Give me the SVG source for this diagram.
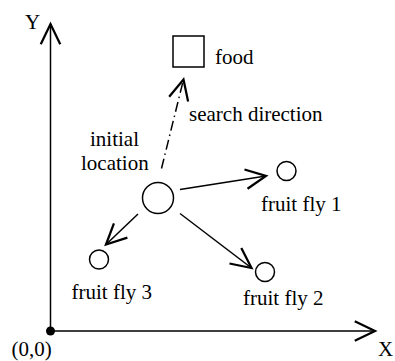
<svg xmlns="http://www.w3.org/2000/svg" width="395" height="361" viewBox="0 0 395 361">
<style>
text{font-family:"Liberation Serif","Times New Roman",serif;font-size:21px;fill:#000}
.ln{stroke:#000;stroke-width:1.5;fill:none}
.nd{stroke:#000;stroke-width:1.5;fill:#fff}
</style>
<defs>
<marker id="ah" markerUnits="userSpaceOnUse" markerWidth="30" markerHeight="30" refX="0" refY="0" viewBox="-16 -10 20 20" orient="auto" overflow="visible">
<path d="M-13.5,-6.5 L0,0 L-13.5,6.5" fill="none" stroke="#000" stroke-width="1.5" stroke-dasharray="none"/>
</marker>
</defs>
<g id="axes">
<line class="ln" x1="50.5" y1="331" x2="50.5" y2="24" marker-end="url(#ah)"/>
<line class="ln" x1="50.5" y1="331" x2="375" y2="331" marker-end="url(#ah)"/>
<circle cx="50.5" cy="331" r="4.5" fill="#000"/>
<text x="25" y="29">Y</text>
<text x="378" y="356">X</text>
<text x="11.5" y="356">(0,0)</text>
</g>
<g id="connectors">
<line class="ln" x1="161.5" y1="168.5" x2="183.5" y2="79.5" stroke-dasharray="10 4 1.5 4" marker-end="url(#ah)"/>
<line class="ln" x1="180" y1="189.5" x2="266" y2="176" marker-end="url(#ah)"/>
<line class="ln" x1="180" y1="213.5" x2="251.5" y2="268" marker-end="url(#ah)"/>
<line class="ln" x1="138" y1="214" x2="106" y2="244.5" marker-end="url(#ah)"/>
</g>
<g id="food">
<rect class="nd" x="173" y="36" width="31" height="31"/>
<text x="215" y="64">food</text>
</g>
<g id="search-label">
<text x="189" y="121">search direction</text>
</g>
<g id="initial">
<circle class="nd" cx="158" cy="198" r="15.5"/>
<text x="90" y="146">initial</text>
<text x="81" y="170">location</text>
</g>
<g id="fly1">
<circle class="nd" cx="286.5" cy="171" r="9.5"/>
<text x="261" y="211">fruit fly 1</text>
</g>
<g id="fly2">
<circle class="nd" cx="265" cy="272" r="9.5"/>
<text x="243" y="305">fruit fly 2</text>
</g>
<g id="fly3">
<circle class="nd" cx="99" cy="259.5" r="9.5"/>
<text x="71.5" y="299">fruit fly 3</text>
</g>
</svg>
